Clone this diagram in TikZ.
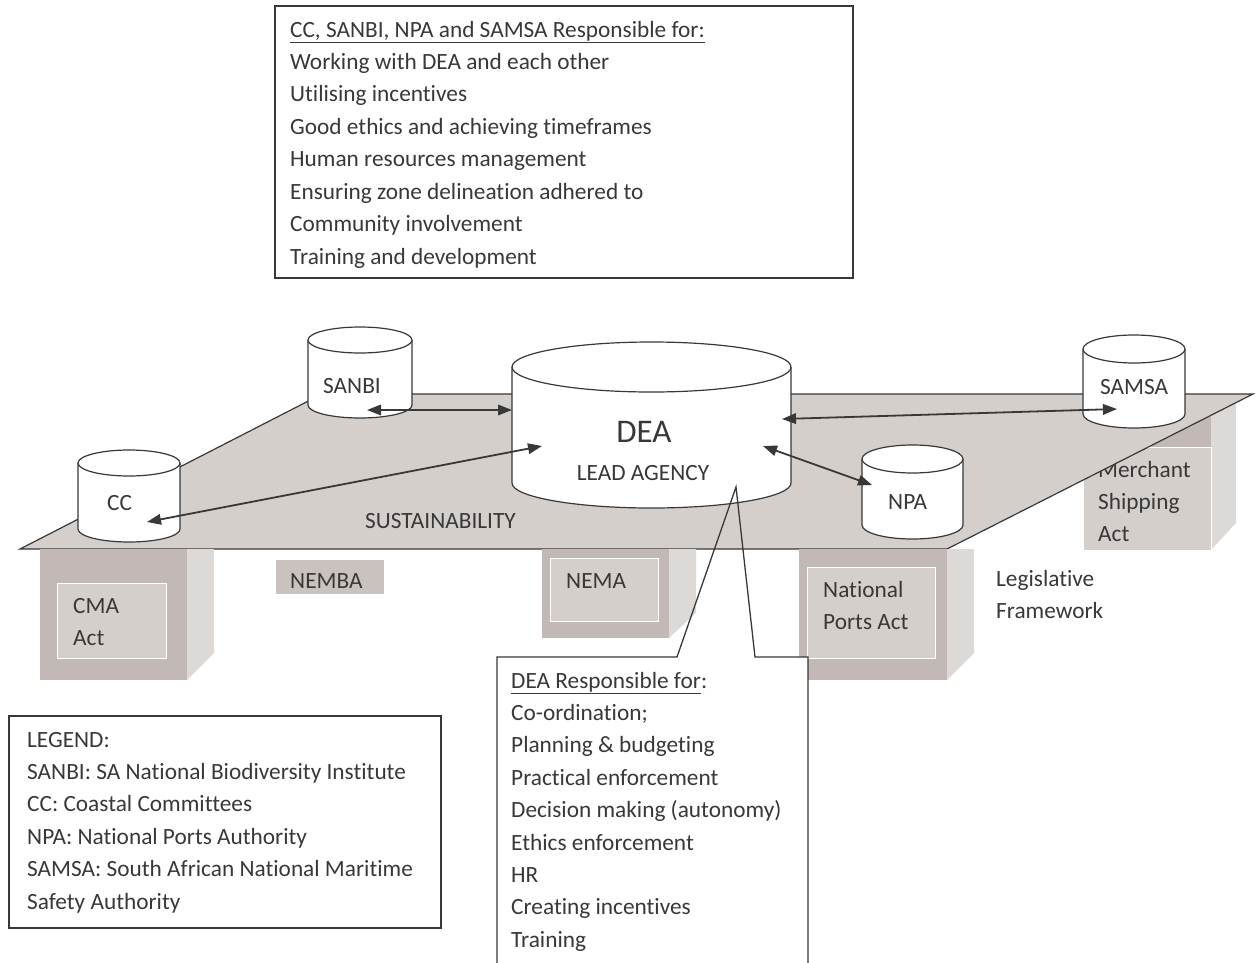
\documentclass[tikz,border=0pt]{standalone}
\usepackage{fontspec}
\setmainfont{Carlito}[Ligatures=NoCommon]
\usetikzlibrary{arrows.meta}
\definecolor{txt}{HTML}{383838}
\definecolor{plat}{HTML}{D5CFCC}
\definecolor{pfront}{HTML}{C2B9B6}
\definecolor{pside}{HTML}{DDD9D6}
\definecolor{nembac}{HTML}{CAC2BF}
\newcommand\myfs{\fontsize{23.3}{28}\selectfont}
\newcommand\mycyl[6]{%
  \fill[white] (#1,#4) ellipse [x radius=#2pt, y radius=#5pt];
  \fill[white] ({#1-#2},#3) rectangle ({#1+#2},#4);
  \draw[ln] ({#1-#2},#3) -- ({#1-#2},#4) arc[start angle=180, end angle=360, x radius=#2pt, y radius=#5pt] -- ({#1+#2},#3);
  \draw[ln, fill=white] (#1,#3) ellipse [x radius=#2pt, y radius=#5pt];
  \coordinate (#6) at (#1,{(#3+#4)/2});
}
\begin{document}
\begin{tikzpicture}[x=1pt,y=-1pt,
  lbl/.style={anchor=base west, inner sep=0pt, text=txt, font=\myfs},
  clbl/.style={anchor=base, inner sep=0pt, text=txt, font=\myfs},
  ln/.style={draw=txt, line width=1.2pt},
  boxln/.style={draw=txt, line width=1.3pt},
  dbl/.style={draw=txt, line width=1.8pt, {Triangle[length=14pt,width=10.5pt]}-{Triangle[length=14pt,width=10.5pt]}},
  panel/.style={fill=plat, draw=white, line width=1pt}]
\useasboundingbox (0,0) rectangle (1256,962);
\clip (0,0) rectangle (1256,962);

% ---- Merchant Shipping pillar (behind platform)
\fill[pfront] (1083,394) rectangle (1211,550);
\fill[pside] (1211,394) -- (1236,394) -- (1236,523) -- (1211,550) -- cycle;
\filldraw[panel] (1083,447) rectangle (1211,550);
\node[lbl, name=msa1] at (1098,477) {Merchant};
\node[lbl, name=msa2] at (1098,509) {Shipping};
\node[lbl, name=msa3] at (1098,541) {Act};

% ---- platform
\filldraw[fill=plat, draw=txt, line width=1.2pt] (20,549) -- (322,394) -- (1253,394) -- (947,549) -- cycle;
\node[lbl, name=sust] at (365,528) {SUSTAINABILITY};

% ---- CMA pillar
\fill[pfront] (40,549) rectangle (187,680);
\fill[pside] (187,549) -- (214,549) -- (214,653) -- (187,680) -- cycle;
\filldraw[panel] (57,583) rectangle (166,658);
\node[lbl, name=cma1] at (73,613) {CMA};
\node[lbl, name=cma2] at (73,645) {Act};

% ---- NEMBA
\fill[nembac] (276,560) rectangle (384,594);
\begin{scope}
\clip (276,560) rectangle (384,594);
\node[lbl, name=nemba] at (290,588) {NEMBA};
\end{scope}

% ---- NEMA pillar
\fill[pfront] (542,549) rectangle (669,638);
\fill[pside] (669,549) -- (696,549) -- (696,613) -- (669,638) -- cycle;
\filldraw[panel] (550,558) rectangle (658,621);
\node[lbl, name=nema] at (566,588) {NEMA};

% ---- National Ports pillar
\fill[pfront] (799,549) rectangle (947,680);
\fill[pside] (947,549) -- (974,549) -- (974,653) -- (947,680) -- cycle;
\filldraw[panel] (807,567) rectangle (935,658);
\node[lbl, name=npa1] at (823,597) {National};
\node[lbl, name=npa2] at (823,629) {Ports Act};

% ---- Legislative framework label
\node[lbl, name=leg1] at (996,586) {Legislative};
\node[lbl, name=leg2] at (996,618) {Framework};

% ---- cylinders
\mycyl{360}{52}{340}{405}{13}{sanbi}
\mycyl{651.5}{139.5}{367}{483}{25}{dea}
\mycyl{129}{51}{463}{529}{13}{cc}
\mycyl{912.5}{50.5}{459}{525}{14}{npa}
\mycyl{1134}{51}{349}{414}{14}{samsa}
\node[lbl, name=sanbiT] at (323,393) {SANBI};
\node[lbl, name=ccT] at (107,510) {CC};
\node[lbl, name=npaT] at (888,509) {NPA};
\node[lbl, name=samsaT] at (1100,394) {SAMSA};
\node[clbl, font=\fontsize{33}{36}\selectfont, name=deaT] at (644,442) {DEA};
\node[clbl, name=leadT] at (643,480) {LEAD AGENCY};

% ---- arrows
\coordinate (sanbiA) at (367,410);
\coordinate (deaL) at (512,410);
\coordinate (ccA) at (147,522);
\coordinate (deaC) at (542,446);
\coordinate (deaS) at (782,419);
\coordinate (samsaA) at (1117,409);
\coordinate (deaN) at (763,446);
\coordinate (npaA) at (872,485);
\draw[dbl] (sanbiA) -- (deaL);
\draw[dbl] (ccA) -- (deaC);
\draw[dbl] (deaS) -- (samsaA);
\draw[dbl] (deaN) -- (npaA);

% ---- top box
\draw[boxln] (275,6) rectangle (853,278);
\foreach \t [count=\i from 0] in {{\underline{CC, SANBI, NPA and SAMSA Responsible for:}},
  Working with DEA and each other, Utilising incentives, Good ethics and achieving timeframes,
  Human resources management, Ensuring zone delineation adhered to, Community involvement,
  Training and development}
  \node[lbl, name=top\i] at (290,{37+32.45*\i}) {\t};

% ---- DEA callout
\coordinate (tip) at (736,487);
\fill[white] (497,657) rectangle (808,970);
\draw[boxln] (497,970) -- (497,657) -- (677,657) -- (tip) -- (755,657) -- (808,657) -- (808,970);
\foreach \t [count=\i from 0] in {{\underline{DEA Responsible for}:}, Co-ordination;,
  Planning \& budgeting, Practical enforcement, Decision making (autonomy),
  Ethics enforcement, HR, Creating incentives, Training}
  \node[lbl, name=dea\i] at (511,{688+32.4*\i}) {\t};

% ---- legend
\draw[boxln] (9,716) rectangle (441,928);
\foreach \t [count=\i from 0] in {LEGEND:, SANBI: SA National Biodiversity Institute,
  CC: Coastal Committees, NPA: National Ports Authority,
  SAMSA: South African National Maritime, Safety Authority}
  \node[lbl, name=leg\i] at (27,{747+32.4*\i}) {\t};
\end{tikzpicture}
\end{document}
